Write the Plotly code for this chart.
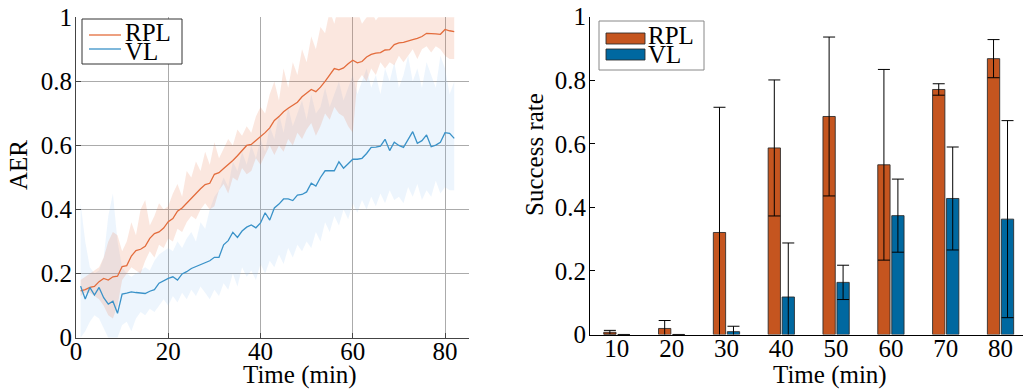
import plotly.graph_objects as go

# ---------------- Left panel data (AER over time) ----------------
time_min = list(range(1, 83))

rpl_aer = [0.146, 0.150, 0.157, 0.160, 0.175, 0.185, 0.180, 0.190, 0.192, 0.222,
           0.225, 0.255, 0.272, 0.276, 0.285, 0.310, 0.325, 0.330, 0.342, 0.362,
           0.372, 0.395, 0.405, 0.420, 0.438, 0.452, 0.465, 0.478, 0.482, 0.510,
           0.515, 0.528, 0.540, 0.553, 0.568, 0.585, 0.600, 0.603, 0.615, 0.625,
           0.640, 0.655, 0.678, 0.690, 0.705, 0.716, 0.725, 0.735, 0.752, 0.763,
           0.775, 0.768, 0.782, 0.800, 0.820, 0.840, 0.836, 0.842, 0.855, 0.866,
           0.858, 0.862, 0.876, 0.884, 0.888, 0.890, 0.898, 0.899, 0.915, 0.920,
           0.922, 0.925, 0.930, 0.934, 0.940, 0.950, 0.950, 0.948, 0.947, 0.962,
           0.958, 0.955]
rpl_upper = [0.18, 0.19, 0.20, 0.21, 0.22, 0.25, 0.30, 0.33, 0.32, 0.27,
             0.30, 0.36, 0.32, 0.40, 0.43, 0.35, 0.38, 0.42, 0.40, 0.41,
             0.45, 0.48, 0.44, 0.52, 0.50, 0.55, 0.52, 0.58, 0.54, 0.61,
             0.56, 0.59, 0.62, 0.60, 0.65, 0.63, 0.66, 0.64, 0.69, 0.72,
             0.70, 0.76, 0.80, 0.74, 0.84, 0.78, 0.86, 0.82, 0.90, 0.86,
             0.94, 0.90, 0.97, 0.95, 1.02, 0.98, 1.04, 1.00, 1.05, 1.03,
             1.02, 0.98, 1.00, 1.02, 0.99, 1.01, 1.00, 1.02, 1.00, 1.03,
             1.00, 1.02, 1.00, 1.03, 1.01, 1.04, 1.02, 1.05, 1.03, 1.04,
             1.05, 1.04]
rpl_lower = [0.13, 0.14, 0.14, 0.13, 0.12, 0.10, 0.07, 0.06, 0.10, 0.18,
             0.20, 0.22, 0.21, 0.20, 0.24, 0.27, 0.25, 0.29, 0.28, 0.31,
             0.30, 0.34, 0.33, 0.36, 0.38, 0.37, 0.40, 0.42, 0.40, 0.41,
             0.46, 0.48, 0.45, 0.50, 0.49, 0.53, 0.51, 0.52, 0.56, 0.54,
             0.57, 0.60, 0.57, 0.60, 0.58, 0.62, 0.60, 0.64, 0.62, 0.65,
             0.67, 0.63, 0.66, 0.70, 0.68, 0.72, 0.70, 0.69, 0.66, 0.64,
             0.80, 0.82, 0.80, 0.84, 0.82, 0.86, 0.84, 0.86, 0.85, 0.88,
             0.86, 0.88, 0.90, 0.87, 0.90, 0.91, 0.89, 0.91, 0.90, 0.88,
             0.87, 0.87]

vl_aer = [0.161, 0.121, 0.157, 0.133, 0.157, 0.125, 0.105, 0.114, 0.076, 0.136,
          0.139, 0.143, 0.141, 0.139, 0.138, 0.145, 0.150, 0.170, 0.178, 0.185,
          0.190, 0.180, 0.199, 0.206, 0.216, 0.222, 0.228, 0.233, 0.240, 0.251,
          0.251, 0.290, 0.303, 0.329, 0.313, 0.333, 0.345, 0.352, 0.343, 0.358,
          0.390, 0.367, 0.405, 0.417, 0.433, 0.433, 0.428, 0.445, 0.447, 0.455,
          0.482, 0.473, 0.500, 0.521, 0.521, 0.521, 0.549, 0.529, 0.543, 0.557,
          0.557, 0.560, 0.575, 0.594, 0.595, 0.598, 0.619, 0.584, 0.610, 0.600,
          0.594, 0.620, 0.643, 0.607, 0.615, 0.633, 0.596, 0.601, 0.610, 0.640,
          0.638, 0.622]
vl_upper = [0.42, 0.30, 0.22, 0.20, 0.21, 0.25, 0.38, 0.45, 0.30, 0.22,
            0.20, 0.19, 0.20, 0.21, 0.22, 0.21, 0.24, 0.26, 0.27, 0.28,
            0.27, 0.30, 0.28, 0.31, 0.33, 0.30, 0.36, 0.34, 0.40, 0.44,
            0.46, 0.50, 0.47, 0.55, 0.52, 0.58, 0.54, 0.60, 0.56, 0.62,
            0.58, 0.66, 0.62, 0.70, 0.64, 0.72, 0.66, 0.70, 0.74, 0.68,
            0.76, 0.70, 0.72, 0.78, 0.72, 0.76, 0.80, 0.74, 0.78, 0.82,
            0.76, 0.80, 0.84, 0.78, 0.82, 0.76, 0.84, 0.80, 0.86, 0.78,
            0.82, 0.88, 0.80, 0.84, 0.78, 0.86, 0.82, 0.78, 0.88, 0.84,
            0.76, 0.80]
vl_lower = [0.00, 0.02, 0.05, 0.07, 0.06, 0.03, 0.00, 0.00, 0.00, 0.04,
            0.05, 0.02, 0.06, 0.08, 0.07, 0.09, 0.08, 0.10, 0.12, 0.10,
            0.13, 0.11, 0.14, 0.12, 0.15, 0.13, 0.16, 0.14, 0.12, 0.15,
            0.13, 0.17, 0.15, 0.20, 0.16, 0.22, 0.19, 0.21, 0.18, 0.23,
            0.20, 0.24, 0.22, 0.26, 0.23, 0.28, 0.25, 0.29, 0.27, 0.30,
            0.28, 0.33, 0.30, 0.36, 0.33, 0.38, 0.35, 0.40, 0.37, 0.42,
            0.39, 0.43, 0.40, 0.44, 0.41, 0.45, 0.42, 0.46, 0.43, 0.44,
            0.42, 0.47, 0.44, 0.48, 0.43, 0.46, 0.44, 0.49, 0.45, 0.47,
            0.46, 0.46]

# ---------------- Right panel data (success rate) ----------------
bar_times = [10, 20, 30, 40, 50, 60, 70, 80]
rpl_success = [0.007, 0.019, 0.321, 0.587, 0.686, 0.534, 0.771, 0.868]
rpl_err = [0.006, 0.025, 0.394, 0.214, 0.250, 0.300, 0.018, 0.060]
vl_success = [0.0, 0.0, 0.009, 0.118, 0.164, 0.374, 0.428, 0.363]
vl_err = [0.0, 0.0, 0.017, 0.170, 0.054, 0.115, 0.162, 0.310]

series_names = ["RPL", "VL"]
y_ticks = [0, 0.2, 0.4, 0.6, 0.8, 1]
y_ticktext = ["0", "0.2", "0.4", "0.6", "0.8", "1"]
left_xticks = [0, 20, 40, 60, 80]

FONT = "Liberation Serif"
RPL_LINE = "#E36C3C"
VL_LINE = "#3A92C8"
RPL_BAR = "#C5551F"
VL_BAR = "#0068A0"
W, H = 1028, 390


def py(p):
    """pixel row -> paper y"""
    return 1 - p / H


def px(p):
    return p / W


fig = go.Figure()

# bands (lower then upper filled to it)
fig.add_trace(go.Scatter(x=time_min, y=vl_lower, mode="lines", line=dict(width=0),
                         showlegend=False, hoverinfo="skip", xaxis="x", yaxis="y"))
fig.add_trace(go.Scatter(x=time_min, y=vl_upper, mode="lines", line=dict(width=0),
                         fill="tonexty", fillcolor="rgba(142,195,242,0.16)",
                         showlegend=False, hoverinfo="skip", xaxis="x", yaxis="y"))
fig.add_trace(go.Scatter(x=time_min, y=rpl_lower, mode="lines", line=dict(width=0),
                         showlegend=False, hoverinfo="skip", xaxis="x", yaxis="y"))
fig.add_trace(go.Scatter(x=time_min, y=rpl_upper, mode="lines", line=dict(width=0),
                         fill="tonexty", fillcolor="rgba(235,120,75,0.18)",
                         showlegend=False, hoverinfo="skip", xaxis="x", yaxis="y"))

fig.add_trace(go.Scatter(x=time_min, y=rpl_aer, mode="lines", name=series_names[0],
                         line=dict(color=RPL_LINE, width=1.3), xaxis="x", yaxis="y",
                         showlegend=False))
fig.add_trace(go.Scatter(x=time_min, y=vl_aer, mode="lines", name=series_names[1],
                         line=dict(color=VL_LINE, width=1.3), xaxis="x", yaxis="y",
                         showlegend=False))

fig.add_trace(go.Bar(x=bar_times, y=rpl_success, name=series_names[0],
                     marker=dict(color=RPL_BAR, line=dict(color="rgba(40,40,40,0.85)", width=1)),
                     error_y=dict(type="data", array=rpl_err, color="black", thickness=1, width=6),
                     xaxis="x2", yaxis="y2", showlegend=False))
fig.add_trace(go.Bar(x=bar_times, y=vl_success, name=series_names[1],
                     marker=dict(color=VL_BAR, line=dict(color="rgba(40,40,40,0.85)", width=1)),
                     error_y=dict(type="data", array=vl_err, color="black", thickness=1, width=6),
                     xaxis="x2", yaxis="y2", showlegend=False))

tickfont = dict(family=FONT, size=25, color="black")

# ---- compact MATLAB-style legends (box + samples + labels) ----
shapes = [
    dict(type="rect", xref="paper", yref="paper", x0=px(82), x1=px(182), y0=py(64), y1=py(19),
         line=dict(color="#333", width=1), fillcolor="white", layer="above"),
    dict(type="line", xref="paper", yref="paper", x0=px(89), x1=px(121), y0=py(35), y1=py(35),
         line=dict(color=RPL_LINE, width=1.3), layer="above"),
    dict(type="line", xref="paper", yref="paper", x0=px(89), x1=px(121), y0=py(49), y1=py(49),
         line=dict(color=VL_LINE, width=1.3), layer="above"),
    dict(type="rect", xref="paper", yref="paper", x0=px(599), x1=px(704), y0=py(70), y1=py(21),
         line=dict(color="#888", width=1), fillcolor="white", layer="above"),
    dict(type="rect", xref="paper", yref="paper", x0=px(606), x1=px(645), y0=py(44), y1=py(33),
         line=dict(color="rgba(40,40,40,0.85)", width=1), fillcolor=RPL_BAR, layer="above"),
    dict(type="rect", xref="paper", yref="paper", x0=px(606), x1=px(645), y0=py(60), y1=py(49),
         line=dict(color="rgba(40,40,40,0.85)", width=1), fillcolor=VL_BAR, layer="above"),
]

annotations = [
    dict(text=series_names[0], x=px(123), y=py(32), xanchor="left", yanchor="middle"),
    dict(text=series_names[1], x=px(123), y=py(52), xanchor="left", yanchor="middle"),
    dict(text=series_names[0], x=px(646), y=py(35), xanchor="left", yanchor="middle"),
    dict(text=series_names[1], x=px(646), y=py(55), xanchor="left", yanchor="middle"),
    dict(text="AER", x=px(18), y=py(165), textangle=-90, xanchor="center", yanchor="middle"),
    dict(text="Time (min)", x=px(300), y=py(375), xanchor="center", yanchor="middle"),
    dict(text="Success rate", x=px(535), y=py(155), textangle=-90, xanchor="center",
         yanchor="middle"),
    dict(text="Time (min)", x=px(830), y=py(375), xanchor="center", yanchor="middle"),
]
for a in annotations:
    a.update(xref="paper", yref="paper", showarrow=False,
             font=dict(family=FONT, size=25, color="black"))

fig.update_layout(
    width=W, height=H,
    margin=dict(l=0, r=0, t=0, b=0, autoexpand=False),
    paper_bgcolor="white", plot_bgcolor="white",
    barmode="group", bargap=0.49, bargroupgap=0.12,
    font=dict(family=FONT, size=25, color="black"),
    showlegend=False,
    xaxis=dict(domain=[px(76), px(469)], range=[0, 85.2], tickvals=left_xticks,
               showgrid=True, gridcolor="#ABABAB", gridwidth=1, zeroline=False,
               showline=True, linecolor="#444", linewidth=1, ticks="inside", ticklen=5,
               tickcolor="#444", tickfont=tickfont, anchor="y", automargin=False,
               ticklabelstandoff=-9),
    yaxis=dict(domain=[py(337.7), py(17.3)], range=[0, 1], tickvals=y_ticks,
               ticktext=y_ticktext, showgrid=True, gridcolor="#ABABAB", gridwidth=1,
               zeroline=False, showline=True, linecolor="#444", linewidth=1,
               ticks="inside", ticklen=5, tickcolor="#444", tickfont=tickfont, anchor="x",
               automargin=False, ticklabelstandoff=-2),
    xaxis2=dict(domain=[px(590), px(1023)], range=[5.1, 84.1], tickvals=bar_times,
                showgrid=False, zeroline=False, showline=True, linecolor="black",
                linewidth=1, ticks="", tickfont=tickfont, anchor="y2", automargin=False,
                ticklabelstandoff=-9),
    yaxis2=dict(domain=[py(334.5), py(16.7)], range=[0, 1], tickvals=y_ticks,
                ticktext=y_ticktext, showgrid=False, zeroline=False, showline=True,
                linecolor="black", linewidth=1, ticks="inside", ticklen=5,
                tickcolor="black", tickfont=tickfont, anchor="x2", automargin=False,
                ticklabelstandoff=-2),
    shapes=shapes,
    annotations=annotations,
)

fig.write_html("out.html", config={"displayModeBar": False},
               post_script="document.body.style.margin='0';")
